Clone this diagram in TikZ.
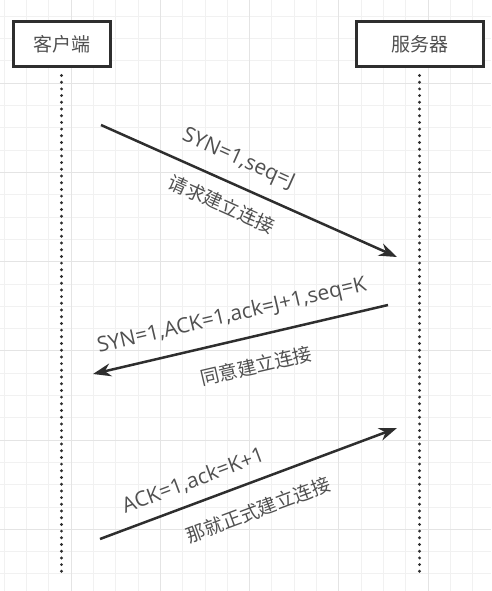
\documentclass[tikz,border=0pt]{standalone}
\usepackage{fontspec}
\setmainfont{Open Sans}
\newfontfamily\cjk{Noto Sans CJK SC}
\usetikzlibrary{positioning,arrows.meta}

\definecolor{gridmin}{HTML}{F1F1F1}
\definecolor{gridmaj}{HTML}{E4E4E4}
\definecolor{ink}{HTML}{2E2E2E}
\definecolor{txt}{HTML}{505050}

\tikzset{
  party/.style={draw=ink,line width=3pt,fill=white,minimum height=45pt,inner sep=0pt,
    font=\cjk\fontsize{19}{19}\selectfont,text=txt},
  life/.style={draw=ink,line width=3.2pt,dash pattern=on 0pt off 6.7pt,line cap=round},
  msg/.style={draw=ink,line width=2.5pt,-{Stealth[length=18pt,width=13pt]}},
  lat/.style={sloped,inner sep=0pt,text=txt,font=\fontsize{21}{21}\selectfont,
    text height=15pt,text depth=4pt},
  han/.style={sloped,inner sep=0pt,text=txt,font=\cjk\fontsize{19}{19}\selectfont,
    text height=15pt,text depth=3pt},
}

\begin{document}
\begin{tikzpicture}[x=1pt,y=-1pt]

\useasboundingbox (0,0) rectangle (491,591);

% grid
\foreach \i in {0,...,21} \draw[gridmin,line width=1pt] (4.3+22.3*\i,0) -- ++(0,591);
\foreach \j in {0,...,25} \draw[gridmin,line width=1pt] (0,16.4+22.3*\j) -- ++(491,0);
\foreach \i in {3,7,...,19} \draw[gridmaj,line width=1pt] (4.3+22.3*\i,0) -- ++(0,591);
\foreach \j in {3,7,...,23} \draw[gridmaj,line width=1pt] (0,16.4+22.3*\j) -- ++(491,0);

\node[party,minimum width=97pt] (client) at (61.5,44.5) {客户端};
\node[party,minimum width=127pt,right = 243pt of client] (server) {服务器};

\path (client.south) ++(0,505) coordinate (cbot);
\path (server.south) ++(0,505) coordinate (sbot);

\draw[life] ([yshift=-7pt]client.south) -- (cbot);
\draw[life] ([yshift=-7pt]server.south) -- (sbot);

\coordinate (c1) at (101,125);
\coordinate (s1) at (397,257);
\coordinate (s2) at (388,305);
\coordinate (c2) at (93,374);
\coordinate (c3) at (100,539);
\coordinate (s3) at (397,428);

\path (c1) edge [msg] node[lat,pos=0.43,above=14pt]{SYN=1,seq=J}
  node[han,pos=0.44,below=14pt]{请求建立连接} (s1);

\path (s2) edge [msg] node[lat,pos=0.51,above=14pt]{SYN=1,ACK=1,ack=J+1,seq=K}
  node[han,pos=0.47,below=20pt]{同意建立连接} (c2);

\path (c3) edge [msg] node[lat,pos=0.34,above=10pt]{ACK=1,ack=K+1}
  node[han,pos=0.50,below=19pt]{那就正式建立连接} (s3);

\end{tikzpicture}
\end{document}
